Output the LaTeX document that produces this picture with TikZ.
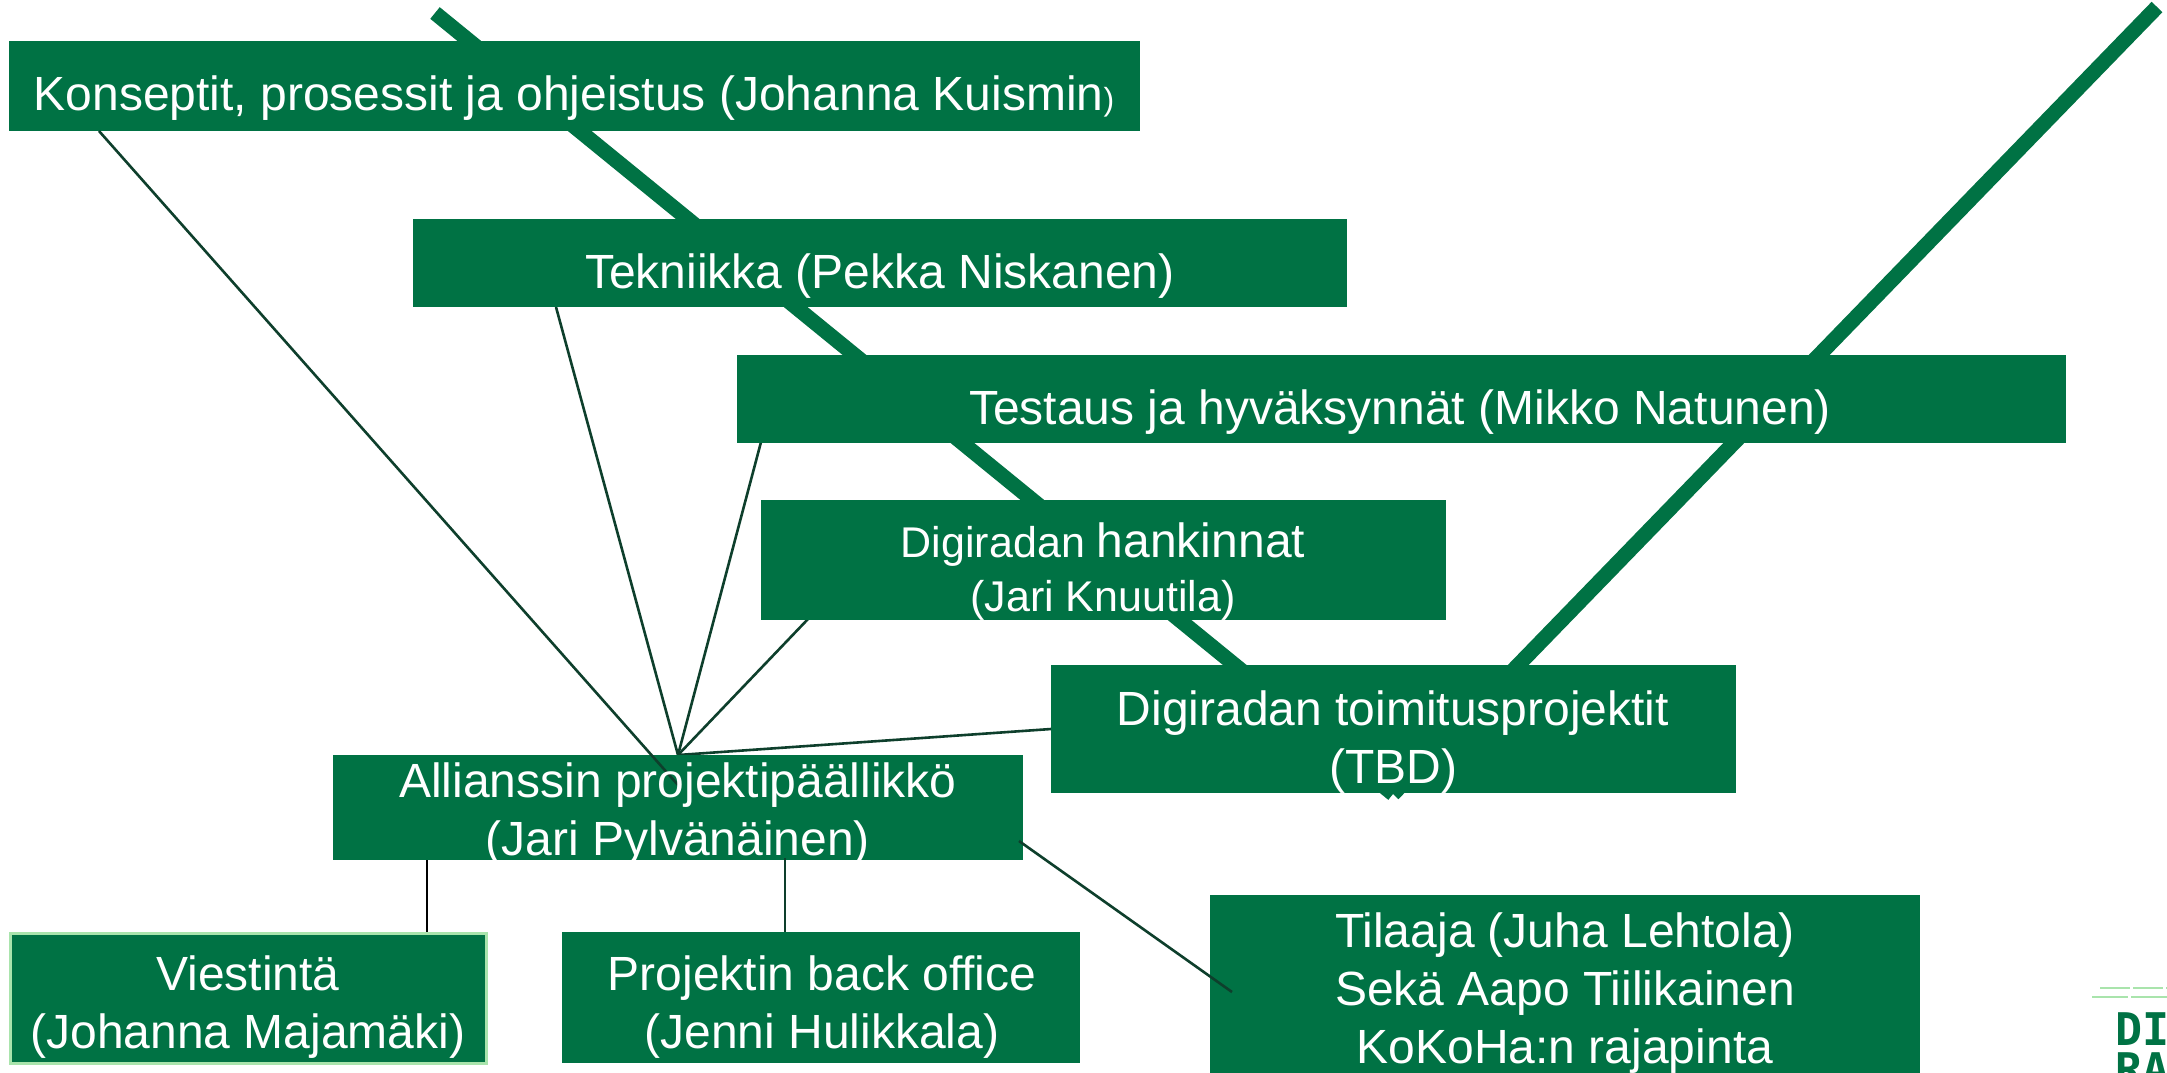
\documentclass[tikz,border=0pt]{standalone}
\usepackage{fontspec}
\setmainfont{Liberation Sans}
\newfontfamily\logofont{DejaVu Sans Mono}
\definecolor{boxgreen}{HTML}{007244}
\definecolor{darkline}{HTML}{0E3F2C}
\definecolor{lightgreen}{HTML}{A9E4AC}
\newcommand{\fs}[1]{\fontsize{#1}{58}\selectfont}
\tikzset{
  x=1pt,y=-1pt,
  label text/.style={text=white,inner sep=0pt,align=center,font=\fs{48}},
  thick line/.style={draw=boxgreen,line width=15pt},
  thin line/.style={draw=darkline,line width=2.6pt},
  black line/.style={draw=black,line width=2.6pt},
}
\begin{document}
\begin{tikzpicture}
\useasboundingbox (0,0) rectangle (2167,1072);
\clip (0,0) rectangle (2167,1072);
\fill[white] (0,0) rectangle (2167,1072);
% V-shaped thick lines
\coordinate (vtip) at (1393,794);
\coordinate (vleft) at (435,13);
\coordinate (vright) at (2157,7);
\draw[thick line] (vleft) -- (vtip);
\draw[thick line] (vright) -- (vtip);
% thin connectors
\coordinate (apex) at (678,755);
\coordinate (cA) at (99,131);
\coordinate (cAend) at (678,785);
\coordinate (cB) at (556,307);
\coordinate (cC) at (761,442);
\coordinate (cD) at (808,619);
\coordinate (cE) at (1051,729);
\draw[thin line] (cB) -- (apex);
\draw[thin line] (cC) -- (apex);
\draw[thin line] (cD) -- (apex);
\draw[thin line] (cE) -- (apex);
% boxes
\fill[boxgreen] (9,41) rectangle (1140,131);
\fill[boxgreen] (413,219) rectangle (1347,307);
\fill[boxgreen] (737,355) rectangle (2066,443);
\fill[boxgreen] (761,499.5) rectangle (1446,619.5);
\fill[boxgreen] (1051,665) rectangle (1736,793);
\fill[boxgreen] (333,755) rectangle (1023,860);
\fill[boxgreen,draw=lightgreen,line width=3pt] (10.5,933.5) rectangle (486,1063.5);
\fill[boxgreen] (562,932) rectangle (1080,1063);
\fill[boxgreen] (1210,895) rectangle (1920,1080);
\draw[thin line] (cA) -- (cAend);
\draw[black line] (427,860) -- (427,932);
\draw[thin line] (785,858) -- (785,932);
\draw[thin line] (1019,841) -- (1232,992);
% text
\node[label text] (n1) at (574,98) {Konseptit, prosessit ja ohjeistus (Johanna Kuismin\fs{32})};
\node[label text] (n2) at (880,276) {Tekniikka (Pekka Niskanen)};
\node[label text] (n3) at (1400,412) {Testaus ja hyväksynnät (Mikko Natunen)};
\node[label text] (n4) at (1103,572) {\fs{43}Digiradan \fs{48}hankinnat\\[-4pt]\fs{43}(Jari Knuutila)};
\node[label text] (n5) at (1393,742) {Digiradan toimitusprojektit\\(TBD)};
\node[label text] (n6) at (678,814) {Allianssin projektipäällikkö\\(Jari Pylvänäinen)};
\node[label text] (n7) at (248,1007) {Viestintä\\(Johanna Majamäki)};
\node[label text] (n8) at (822,1007) {Projektin back office\\(Jenni Hulikkala)};
\node[label text] (n9) at (1565,993) {Tilaaja (Juha Lehtola)\\Sekä Aapo Tiilikainen\\KoKoHa:n rajapinta};
% logo
\draw[lightgreen,line width=1.5pt,dash pattern=on 30pt off 3pt] (2100,988) -- (2167,988);
\draw[lightgreen,line width=1.5pt,dash pattern=on 36pt off 3pt] (2092,997) -- (2167,997);
\node[anchor=north west,inner sep=0pt,text=boxgreen,align=left,font=\logofont\bfseries\fontsize{45}{40}\selectfont] (logo) at (2115,1012) {DI\\RA};
\end{tikzpicture}
\end{document}
